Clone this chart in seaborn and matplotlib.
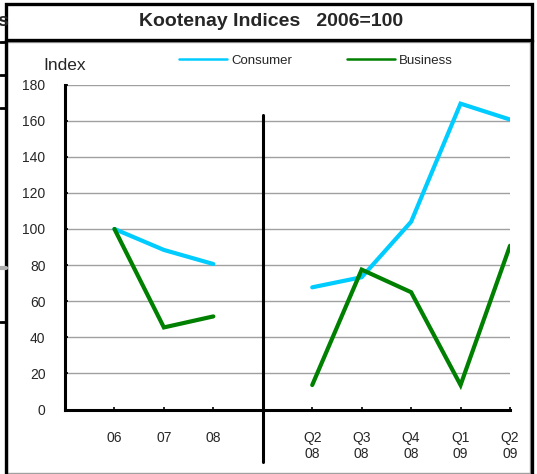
import numpy as np
import pandas as pd
import matplotlib
matplotlib.use("Agg")
import matplotlib.pyplot as plt
from matplotlib.lines import Line2D
from matplotlib.patches import Rectangle
import seaborn as sns

# values (2006=100)
annual_labels = ["06", "07", "08"]
annual_consumer = [100, 88.4, 80.6]
annual_business = [100, 45.5, 51.6]

quarter_labels = ["Q2\n08", "Q3\n08", "Q4\n08", "Q1\n09", "Q2\n09"]
quarter_consumer = [67.7, 73.3, 104, 169.4, 160.6]
quarter_business = [13.6, 77.5, 65, 13.6, 90.7]

series_names = ["Consumer", "Business"]
series_colors = ["#00CCFF", "#008000"]

# category slots: blank, annual, gap, quarterly
tick_labels = [""] + annual_labels + [""] + quarter_labels
annual_pos = [1, 2, 3]
quarter_pos = [5, 6, 7, 8, 9]

rows = []
for pos, c, b in zip(annual_pos, annual_consumer, annual_business):
    rows.append(dict(x=pos, value=c, series="Consumer", segment="annual"))
    rows.append(dict(x=pos, value=b, series="Business", segment="annual"))
for pos, c, b in zip(quarter_pos, quarter_consumer, quarter_business):
    rows.append(dict(x=pos, value=c, series="Consumer", segment="quarter"))
    rows.append(dict(x=pos, value=b, series="Business", segment="quarter"))
df = pd.DataFrame(rows)

sns.set_theme(style="white")
plt.rcParams["font.family"] = ["Liberation Sans", "DejaVu Sans"]

W, H = 537, 474
fig = plt.figure(figsize=(W / 100, H / 100), dpi=100)


def fx(px):
    return px / W


def fy(py):
    return 1 - py / H


# frame pieces around the chart
fig.add_artist(Rectangle((fx(7), fy(473)), fx(523), 431 / H, transform=fig.transFigure,
                         fill=False, edgecolor="#a0a0a0", lw=1))
fig.add_artist(Rectangle((fx(6), fy(40)), fx(525.5), 36 / H, transform=fig.transFigure,
                         fill=False, edgecolor="black", lw=2.4))
fig.add_artist(Line2D([fx(6), fx(6)], [fy(40), fy(474)], transform=fig.transFigure,
                      color="black", lw=2.4))
fig.add_artist(Line2D([fx(531.5), fx(531.5)], [fy(40), fy(474)], transform=fig.transFigure,
                      color="black", lw=2.4))
# bits of the neighbouring chart at the far left
for yy in [42, 75, 108, 322]:
    fig.add_artist(Line2D([0, fx(6)], [fy(yy), fy(yy)], transform=fig.transFigure,
                          color="black", lw=2))
fig.add_artist(Line2D([0, fx(6)], [fy(268), fy(268)], transform=fig.transFigure,
                      color="#b0b0b0", lw=3))
fig.text(fx(-2.5), fy(22), "s", fontsize=14, fontweight="bold", va="center", ha="left")

fig.text(fx(271), fy(21), "Kootenay Indices   2006=100", fontsize=14,
         fontweight="bold", ha="center", va="center")
fig.text(fx(43), fy(66), "Index", fontsize=12.5, ha="left", va="center")

ax = fig.add_axes([fx(65), fy(409.6), fx(445), (409.6 - 84.5) / H])
ax.set_facecolor("none")

sns.lineplot(data=df, x="x", y="value", hue="series", units="segment", estimator=None,
             hue_order=series_names, palette=series_colors, lw=3, ax=ax, legend=False,
             solid_capstyle="round", solid_joinstyle="miter")

ax.set_xlim(0, 9)
ax.set_ylim(0, 180)
ax.set_yticks(np.arange(0, 181, 20))
ax.set_xticks(range(10))
ax.set_xticklabels(tick_labels)
ax.yaxis.grid(True, color="#a0a0a0", lw=1)
ax.set_axisbelow(True)
ax.set_xlabel("")
ax.set_ylabel("")
for side in ["top", "right"]:
    ax.spines[side].set_visible(False)
for side in ["left", "bottom"]:
    ax.spines[side].set_color("black")
    ax.spines[side].set_linewidth(2.2)
ax.tick_params(axis="y", direction="in", length=2.5, width=1.2, color="black",
               labelsize=10, pad=14, left=True)
ax.tick_params(axis="x", direction="in", length=2.5, width=1.2, color="black",
               labelsize=10, pad=15.5, bottom=True)
for lab in ax.get_xticklabels():
    lab.set_linespacing(1.15)

# divider between annual and quarterly sections
ax.axvline(4, ymin=-29 / 180, ymax=163 / 180, color="black", lw=2.2, clip_on=False)

handles = [Line2D([], [], color=c, lw=1.8) for c in series_colors]
fig.legend(handles, series_names, loc="center", bbox_to_anchor=(fx(316), fy(60.5)),
           ncol=2, frameon=False, fontsize=9.5, handlelength=3.6, handletextpad=0.3,
           columnspacing=4.2)

fig.savefig("out.png", dpi=100)
